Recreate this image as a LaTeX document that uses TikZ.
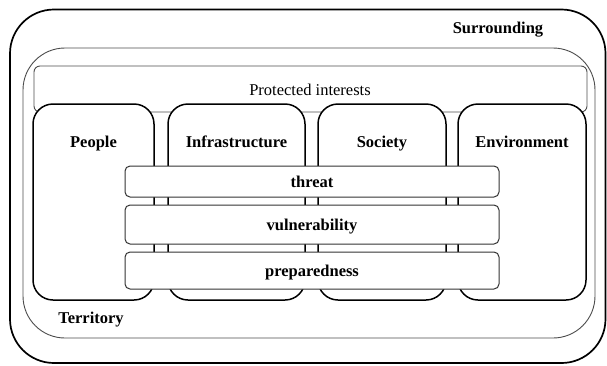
\documentclass[tikz,border=0pt]{standalone}
\usepackage{fontspec}
\setmainfont{Liberation Serif}
\tikzset{
  labeltext/.style={font=\fontsize{16.5}{19}\selectfont\bfseries, inner sep=0pt, anchor=base},
  plaintext/.style={font=\fontsize{16.5}{19}\selectfont, inner sep=0pt, anchor=base},
  groupbox/.style={draw=black, line width=1.5pt, fill=white, rounded corners=20},
  bandbox/.style={draw=black!80, line width=1pt, fill=white, rounded corners=5},
  thinframe/.style={draw=black!70, line width=0.9pt}
}

\begin{document}
\begin{tikzpicture}[x=1pt,y=-1pt]
  \useasboundingbox (0,0) rectangle (607,365);
  % Draw the surrounding and the territory
  \draw[line width=1.7pt, rounded corners=44] (10,9.5) rectangle (605.5,363);
  \draw[thinframe, rounded corners=42] (23,48) rectangle (595,338);

  % Strip holding the protected interests
  \draw[thinframe, rounded corners=6] (34,66) rectangle (587,112);

  % Draw the four interest groups
  \foreach \l/\r/\name/\txt in {33/154/people/People, 168/305/infra/Infrastructure,
                                318/446/society/Society, 458/586/env/Environment} {
    \draw[groupbox] (\l,104) rectangle (\r,300);
    \node[labeltext] (\name) at ({(\l+\r)/2},147) {\txt};
  }

  % Draw the bands across the groups
  \foreach \t/\b/\name in {166/197/threat, 205/244/vulnerability, 252/289/preparedness} {
    \draw[bandbox] (125,\t) rectangle (499,\b);
    \node[labeltext] (\name) at (312,{(\t+\b)/2+5.5}) {\name};
  }

  % Labels
  \node[plaintext] (interests) at (310,95) {Protected interests};
  \node[labeltext] (surrounding) at (498,33) {Surrounding};
  \node[labeltext] (territory) at (91,323) {Territory};
\end{tikzpicture}
\end{document}
